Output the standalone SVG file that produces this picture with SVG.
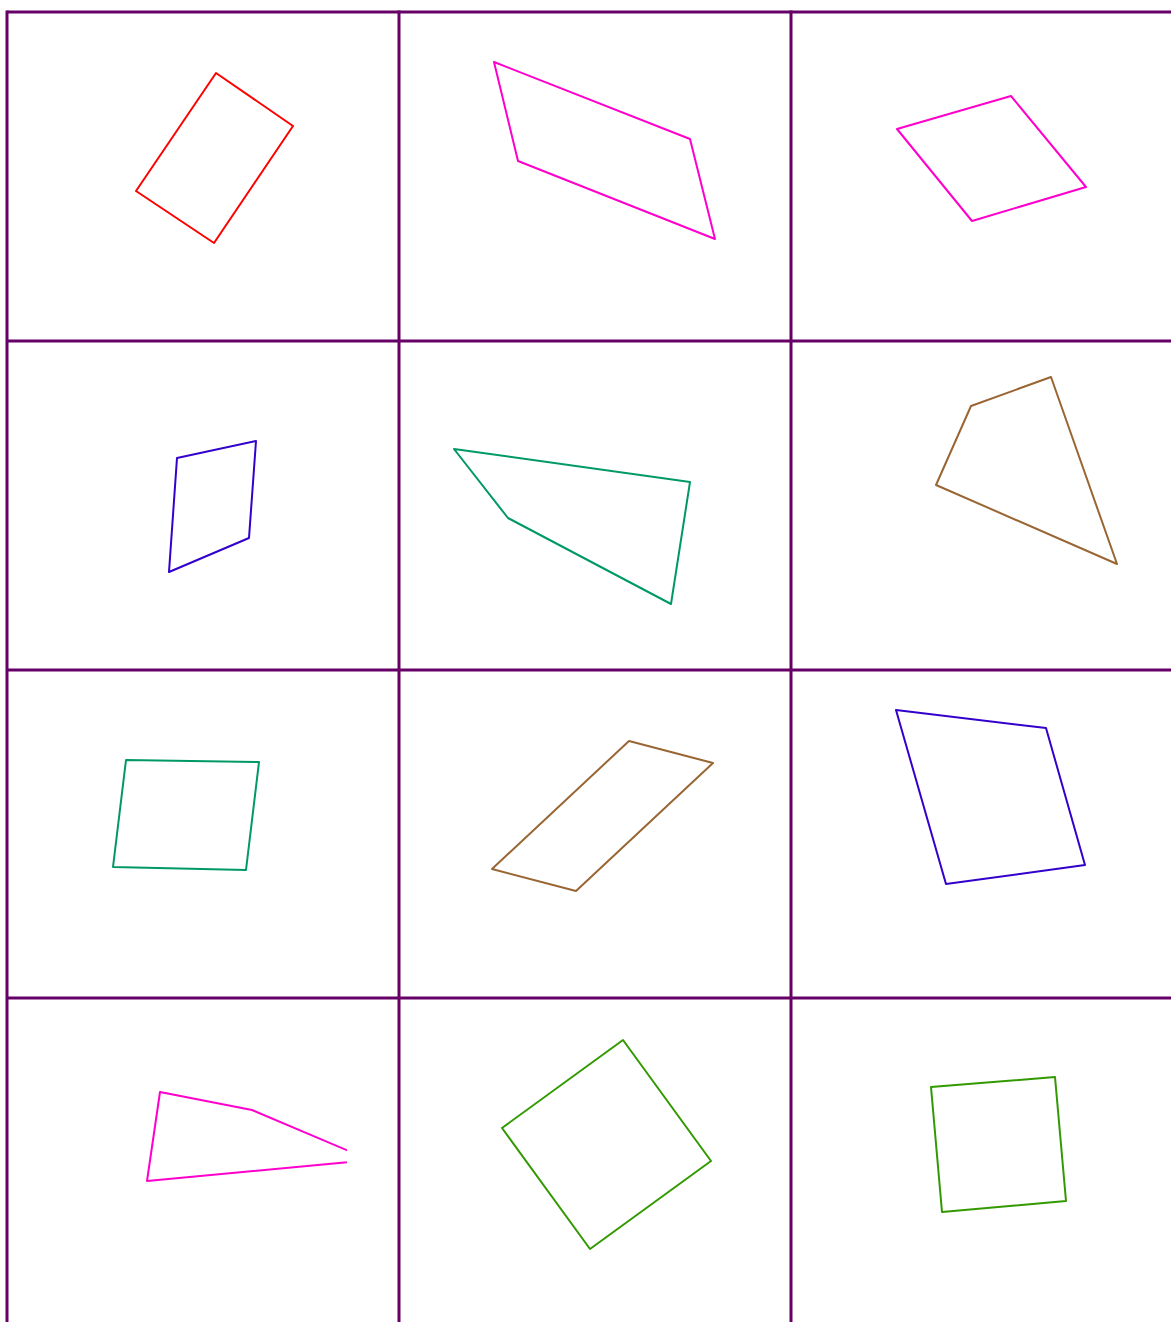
<svg xmlns="http://www.w3.org/2000/svg" width="1171" height="1322" viewBox="0 0 1171 1322">
<style>
.grid{stroke:#660066;stroke-width:3;fill:none}
.s{fill:none;stroke-width:2;stroke-linejoin:round}
.red{stroke:#ff0000}
.mag{stroke:#ff00cc}
.blue{stroke:#3300cc}
.teal{stroke:#009966}
.brown{stroke:#996633}
.green{stroke:#339900}
</style>
<defs>
<clipPath id="c10"><rect x="7" y="998" width="340" height="324"/></clipPath>
</defs>
<rect width="1171" height="1322" fill="#ffffff"/>
<g id="grid" class="grid">
<line x1="7" y1="12" x2="1171" y2="12"/>
<line x1="7" y1="341" x2="1171" y2="341"/>
<line x1="7" y1="670" x2="1171" y2="670"/>
<line x1="7" y1="998" x2="1171" y2="998"/>
<line x1="7" y1="10.5" x2="7" y2="1322"/>
<line x1="399" y1="10.5" x2="399" y2="1322"/>
<line x1="791" y1="10.5" x2="791" y2="1322"/>
</g>
<g id="shape1"><polygon class="s red" points="216,73 293,126 214,243 136,191"/></g>
<g id="shape2"><polygon class="s mag" points="494,62 690,139 715,239 518,161"/></g>
<g id="shape3"><polygon class="s mag" points="897,129 1011,96 1086,187 972,221"/></g>
<g id="shape4"><polygon class="s blue" points="177,458 256,441 249,538 169,572"/></g>
<g id="shape5"><polygon class="s teal" points="454,449 690,482 671,604 508,518"/></g>
<g id="shape6"><polygon class="s brown" points="971,406 1051,377 1117,564 936,485"/></g>
<g id="shape7"><polygon class="s teal" points="126,760 259,762 246,870 113,867"/></g>
<g id="shape8"><polygon class="s brown" points="629,741 713,763 576,891 492,869"/></g>
<g id="shape9"><polygon class="s blue" points="896,710 1046,728 1085,865 946,884"/></g>
<g id="shape10" clip-path="url(#c10)"><polygon class="s mag" points="160,1092 252,1110 370,1160 147,1181"/></g>
<g id="shape11"><polygon class="s green" points="623,1040 711,1161 590,1249 502,1128"/></g>
<g id="shape12"><polygon class="s green" points="931,1087 1055,1077 1066,1201 942,1212"/></g>
</svg>
